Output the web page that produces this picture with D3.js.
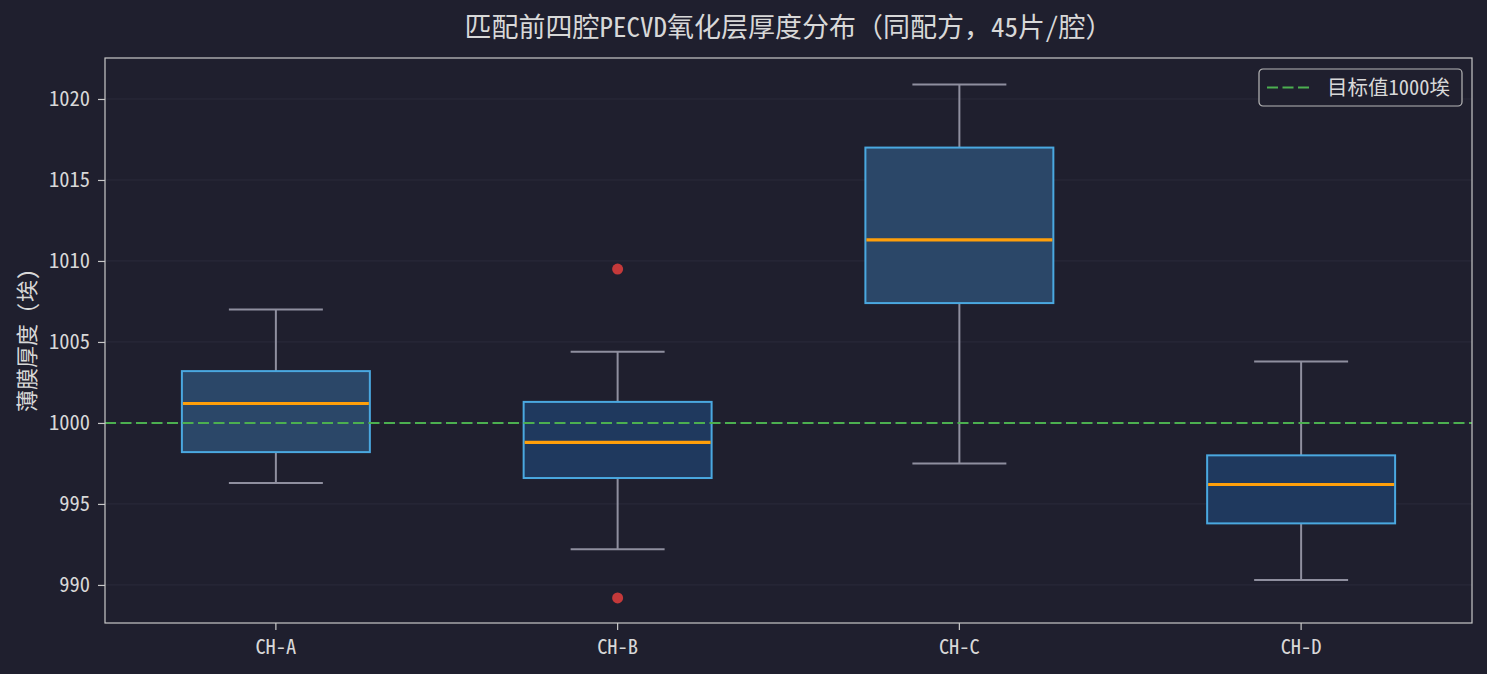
<!DOCTYPE html>
<html>
<head>
<meta charset="utf-8">
<script src="https://cdn.jsdelivr.net/npm/d3@7"></script>
<style>
  body { margin: 0; background: #1f1f2e; }
  text { font-family: "Noto Sans Mono CJK SC", "Noto Sans CJK SC", "DejaVu Sans Mono", monospace; fill: #d8d8d8; }
</style>
</head>
<body>
<div id="chart"></div>
<script>
// chamber names and box stats
var chambers = ["CH-A", "CH-B", "CH-C", "CH-D"];
var whiskerLow  = [996.3, 992.2, 997.5, 990.3];
var q1          = [998.2, 996.6, 1007.4, 993.8];
var medians     = [1001.2, 998.8, 1011.3, 996.2];
var q3          = [1003.2, 1001.3, 1017.0, 998.0];
var whiskerHigh = [1007.0, 1004.4, 1020.9, 1003.8];
var outliers    = [[], [1009.5, 989.2], [], []];
var yTicks = [990, 995, 1000, 1005, 1010, 1015, 1020];
var target = 1000;

var boxFills = ["#2b4768", "#1f395e", "#2b4768", "#1f395e"];

var W = 1487, H = 674;
var margin = {top: 58, right: 15, bottom: 51, left: 105};
var width = W - margin.left - margin.right;
var height = H - margin.top - margin.bottom;

var svg = d3.select("#chart").append("svg")
    .attr("width", W)
    .attr("height", H);

svg.append("rect").attr("width", W).attr("height", H).attr("fill", "#1f1f2e");

var g = svg.append("g")
    .attr("transform", "translate(" + margin.left + "," + margin.top + ")");

// scales
var x = d3.scaleBand()
    .domain(chambers)
    .range([0, width]);

var y = d3.scaleLinear()
    .domain([987.65, 1022.53])
    .range([height, 0]);

var boxW = x.bandwidth() * 0.55;
var capW = boxW / 2;

// grid
g.append("g").selectAll("line")
    .data(yTicks)
    .enter()
    .append("line")
    .attr("x1", 0)
    .attr("x2", width)
    .attr("y1", function(d) { return y(d); })
    .attr("y2", function(d) { return y(d); })
    .attr("stroke", "#2b2b3b")
    .attr("stroke-width", 1);

// axes
var yAxis = g.append("g")
    .call(d3.axisLeft(y).tickValues(yTicks).tickFormat(d3.format("d")).tickSize(7).tickPadding(8));
var xAxis = g.append("g")
    .attr("transform", "translate(0," + height + ")")
    .call(d3.axisBottom(x).tickSize(7).tickPadding(9));

[yAxis, xAxis].forEach(function(a) {
    a.select(".domain").remove();
    a.selectAll("line").attr("stroke", "#c8c8c8").attr("stroke-width", 1.2);
    a.selectAll("text").attr("font-size", 20.5).attr("fill", "#d8d8d8");
});

// boxes
var data = chambers.map(function(c, i) {
    return {name: c, lo: whiskerLow[i], q1: q1[i], med: medians[i], q3: q3[i], hi: whiskerHigh[i], out: outliers[i], fill: boxFills[i]};
});

var box = g.append("g").selectAll("g")
    .data(data)
    .enter()
    .append("g")
    .attr("transform", function(d) { return "translate(" + (x(d.name) + x.bandwidth() / 2) + ",0)"; });

// whiskers
box.append("line")
    .attr("x1", 0).attr("x2", 0)
    .attr("y1", function(d) { return y(d.q3); })
    .attr("y2", function(d) { return y(d.hi); })
    .attr("stroke", "#8f8f9f").attr("stroke-width", 2);
box.append("line")
    .attr("x1", 0).attr("x2", 0)
    .attr("y1", function(d) { return y(d.q1); })
    .attr("y2", function(d) { return y(d.lo); })
    .attr("stroke", "#8f8f9f").attr("stroke-width", 2);
box.append("line")
    .attr("x1", -capW / 2).attr("x2", capW / 2)
    .attr("y1", function(d) { return y(d.hi); })
    .attr("y2", function(d) { return y(d.hi); })
    .attr("stroke", "#8f8f9f").attr("stroke-width", 2);
box.append("line")
    .attr("x1", -capW / 2).attr("x2", capW / 2)
    .attr("y1", function(d) { return y(d.lo); })
    .attr("y2", function(d) { return y(d.lo); })
    .attr("stroke", "#8f8f9f").attr("stroke-width", 2);

box.append("rect")
    .attr("x", -boxW / 2)
    .attr("width", boxW)
    .attr("y", function(d) { return y(d.q3); })
    .attr("height", function(d) { return y(d.q1) - y(d.q3); })
    .attr("fill", function(d) { return d.fill; })
    .attr("stroke", "#4aa8e0")
    .attr("stroke-width", 2);

box.append("line")
    .attr("x1", -boxW / 2 + 1).attr("x2", boxW / 2 - 1)
    .attr("y1", function(d) { return y(d.med); })
    .attr("y2", function(d) { return y(d.med); })
    .attr("stroke", "#ff9f0a").attr("stroke-width", 3.2);

box.selectAll("circle")
    .data(function(d) { return d.out; })
    .enter()
    .append("circle")
    .attr("cx", 0)
    .attr("cy", function(d) { return y(d); })
    .attr("r", 5.5)
    .attr("fill", "#d63c3c")
    .attr("fill-opacity", 0.9);

// target line
g.append("line")
    .attr("x1", 0).attr("x2", width)
    .attr("y1", y(target)).attr("y2", y(target))
    .attr("stroke", "#4caf50")
    .attr("stroke-width", 2)
    .attr("stroke-dasharray", "11,4.5");

// frame
g.append("rect")
    .attr("width", width).attr("height", height)
    .attr("fill", "none")
    .attr("stroke", "#c8c8c8")
    .attr("stroke-width", 1.2);

// title
svg.append("text")
    .attr("x", margin.left + width / 2)
    .attr("y", 37)
    .attr("text-anchor", "middle")
    .attr("font-size", 27)
    .text("匹配前四腔PECVD氧化层厚度分布（同配方，45片/腔）");

// y label
svg.append("text")
    .attr("transform", "rotate(-90)")
    .attr("x", -(margin.top + height / 2))
    .attr("y", 35)
    .attr("text-anchor", "middle")
    .attr("font-size", 22)
    .text("薄膜厚度 (埃)");

// legend
var leg = g.append("g").attr("transform", "translate(" + (width - 213) + ",11)");
leg.append("rect")
    .attr("width", 203).attr("height", 37)
    .attr("rx", 4)
    .attr("fill", "#1f1f2e")
    .attr("stroke", "#b8b8b8")
    .attr("stroke-width", 1.2);
leg.append("line")
    .attr("x1", 8).attr("x2", 50)
    .attr("y1", 18.5).attr("y2", 18.5)
    .attr("stroke", "#4caf50")
    .attr("stroke-width", 2)
    .attr("stroke-dasharray", "11,4.5");
leg.append("text")
    .attr("x", 68)
    .attr("y", 25.5)
    .attr("font-size", 20.5)
    .text("目标值" + target + "埃");
</script>
</body>
</html>
